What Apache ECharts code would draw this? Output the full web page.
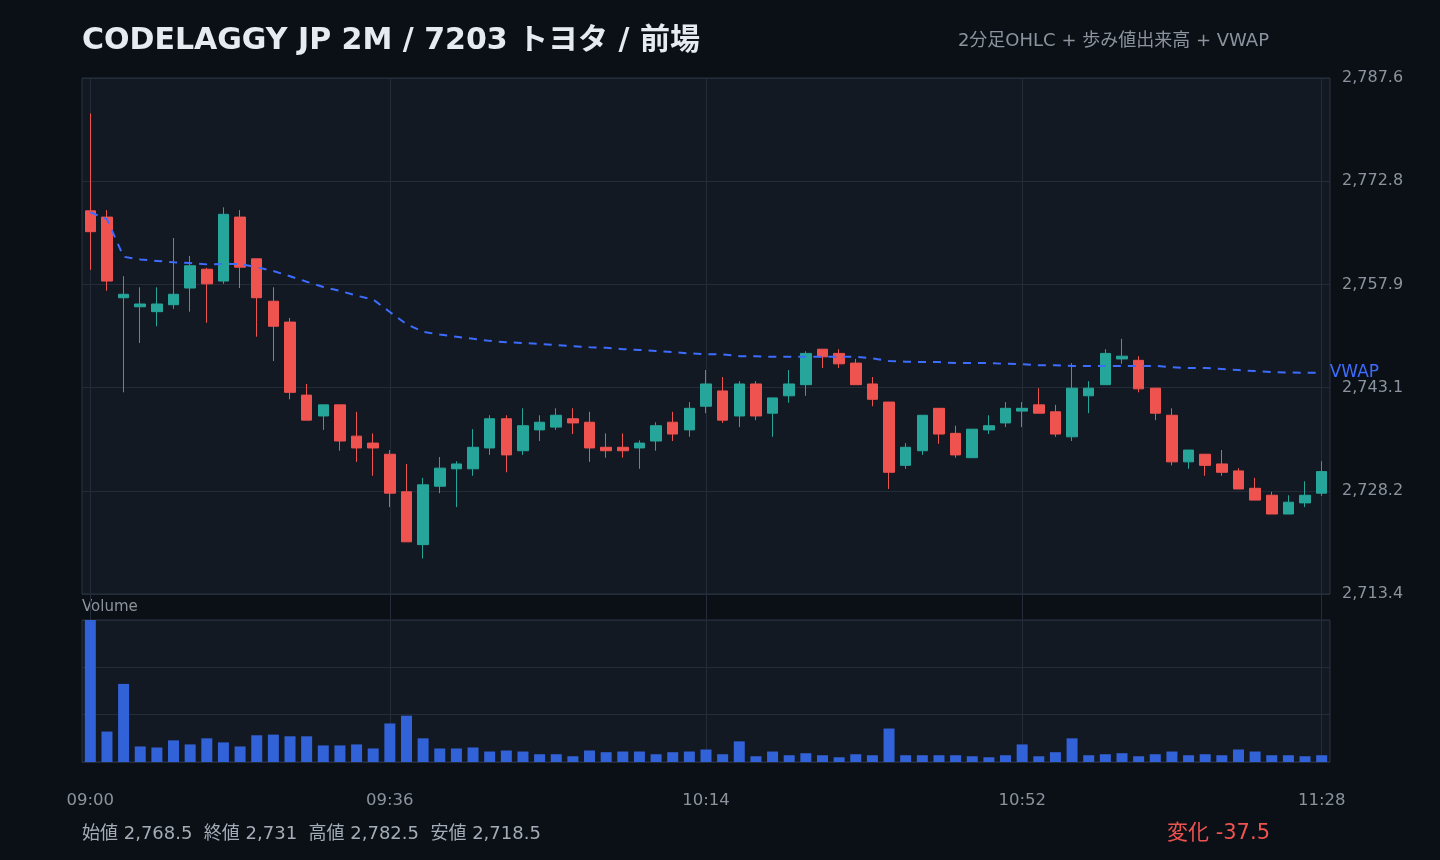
<!DOCTYPE html>
<html lang="ja">
<head>
<meta charset="utf-8">
<title>7203 トヨタ 2分足</title>
<script src="https://cdn.jsdelivr.net/npm/echarts@6/dist/echarts.min.js"></script>
<style>
  html, body { margin: 0; padding: 0; background: #0b0f16; }
  #chart { width: 1440px; height: 860px; }
</style>
</head>
<body>
<div id="chart"></div>
<script>
"use strict";

// 時刻（2分足）
var times = [
  "09:00","09:02","09:04","09:06","09:08","09:10","09:12","09:14","09:16","09:18",
  "09:20","09:22","09:24","09:26","09:28","09:30","09:32","09:34","09:36","09:38",
  "09:40","09:42","09:44","09:46","09:48","09:50","09:52","09:54","09:56","09:58",
  "10:00","10:02","10:04","10:06","10:08","10:10","10:12","10:14","10:16","10:18",
  "10:20","10:22","10:24","10:26","10:28","10:30","10:32","10:34","10:36","10:38",
  "10:40","10:42","10:44","10:46","10:48","10:50","10:52","10:54","10:56","10:58",
  "11:00","11:02","11:04","11:06","11:08","11:10","11:12","11:14","11:16","11:18",
  "11:20","11:22","11:24","11:26","11:28"
];
// 目盛りを出す位置
var labelIndex = [0, 18, 37, 56, 74];

// [始値, 終値, 安値, 高値]
var ohlc = [
  [2768.5, 2765.5, 2760.0, 2782.5], [2767.6, 2758.4, 2757.0, 2768.6],
  [2756.0, 2756.5, 2742.4, 2759.1], [2754.7, 2755.1, 2749.5, 2757.5],
  [2754.0, 2755.1, 2751.9, 2757.5], [2755.0, 2756.5, 2754.4, 2764.6],
  [2757.4, 2760.6, 2754.0, 2762.0], [2760.1, 2758.0, 2752.4, 2760.3],
  [2758.4, 2768.0, 2758.0, 2769.0], [2767.6, 2760.4, 2757.4, 2768.6],
  [2761.6, 2756.0, 2750.4, 2761.6], [2755.5, 2751.9, 2746.9, 2757.5],
  [2752.5, 2742.4, 2741.4, 2753.1], [2742.0, 2738.4, 2738.4, 2743.6],
  [2739.0, 2740.6, 2737.0, 2740.6], [2740.6, 2735.4, 2734.0, 2740.6],
  [2736.1, 2734.4, 2732.4, 2739.6], [2735.1, 2734.4, 2730.4, 2736.5],
  [2733.5, 2727.9, 2725.9, 2734.1], [2728.1, 2720.9, 2720.9, 2732.1],
  [2720.5, 2729.1, 2718.5, 2730.1], [2728.9, 2731.5, 2727.9, 2733.1],
  [2731.4, 2732.1, 2725.9, 2732.5], [2731.4, 2734.5, 2730.4, 2737.1],
  [2734.4, 2738.6, 2733.4, 2739.1], [2738.6, 2733.4, 2730.9, 2739.1],
  [2734.0, 2737.6, 2733.4, 2740.1], [2737.0, 2738.1, 2735.4, 2739.1],
  [2737.4, 2739.1, 2737.0, 2740.1], [2738.6, 2738.0, 2736.4, 2740.1],
  [2738.1, 2734.4, 2732.4, 2739.6], [2734.5, 2734.0, 2733.0, 2736.5],
  [2734.5, 2734.0, 2733.0, 2736.5], [2734.4, 2735.1, 2731.4, 2735.5],
  [2735.4, 2737.6, 2734.0, 2738.1], [2738.1, 2736.4, 2735.4, 2739.6],
  [2737.0, 2740.1, 2736.0, 2741.0], [2740.4, 2743.6, 2739.4, 2745.6],
  [2742.6, 2738.4, 2738.0, 2744.6], [2739.0, 2743.6, 2737.4, 2744.0],
  [2743.6, 2739.0, 2738.4, 2744.0], [2739.4, 2741.6, 2736.0, 2741.6],
  [2741.9, 2743.6, 2740.9, 2745.6], [2743.5, 2748.0, 2741.9, 2748.3],
  [2748.6, 2747.5, 2745.9, 2748.6], [2748.0, 2746.5, 2745.9, 2748.6],
  [2746.6, 2743.5, 2743.5, 2747.2], [2743.6, 2741.4, 2740.4, 2744.6],
  [2741.0, 2730.9, 2728.5, 2741.0], [2731.9, 2734.5, 2731.4, 2735.1],
  [2734.0, 2739.1, 2733.4, 2739.1], [2740.1, 2736.4, 2735.0, 2740.1],
  [2736.5, 2733.4, 2733.0, 2737.6], [2733.0, 2737.1, 2733.0, 2737.1],
  [2737.0, 2737.6, 2736.4, 2739.1], [2738.0, 2740.1, 2737.4, 2741.0],
  [2739.7, 2740.1, 2737.4, 2741.0], [2740.6, 2739.4, 2739.4, 2743.0],
  [2739.6, 2736.4, 2736.0, 2740.6], [2736.0, 2743.0, 2735.4, 2746.6],
  [2741.9, 2743.0, 2739.4, 2744.0], [2743.5, 2748.0, 2743.5, 2748.6],
  [2747.2, 2747.6, 2746.5, 2750.1], [2747.0, 2742.9, 2742.4, 2747.6],
  [2743.0, 2739.4, 2738.4, 2743.0], [2739.1, 2732.4, 2731.9, 2740.1],
  [2732.4, 2734.1, 2731.4, 2734.1], [2733.5, 2731.9, 2730.4, 2733.5],
  [2732.1, 2730.9, 2730.4, 2734.1], [2731.1, 2728.5, 2728.5, 2731.5],
  [2728.6, 2726.9, 2726.9, 2730.1], [2727.6, 2724.9, 2724.9, 2728.1],
  [2724.9, 2726.6, 2724.9, 2727.6], [2726.5, 2727.6, 2725.9, 2729.6],
  [2727.9, 2731.0, 2727.5, 2732.5]
];

// 出来高（株）
var volumes = [
  42000, 9000, 23100, 4600, 4300, 6400, 5200, 7000, 5800, 4600,
  7900, 8100, 7600, 7600, 4900, 4900, 5200, 4000, 11400, 13700,
  7000, 4000, 4000, 4300, 3100, 3400, 3100, 2300, 2300, 1700,
  3400, 2900, 3100, 3100, 2300, 2900, 3100, 3700, 2300, 6100,
  1700, 3100, 2000, 2600, 2000, 1400, 2300, 2000, 9900, 2000,
  2000, 2000, 2000, 1700, 1400, 2000, 5200, 1700, 2900, 7000,
  2000, 2300, 2600, 1700, 2300, 3100, 2000, 2300, 2000, 3700,
  3100, 2000, 2000, 1700, 2000
];

// VWAP
var vwap = [
  2768.3, 2767.3, 2761.9, 2761.5, 2761.3, 2761.1, 2761.0, 2760.8, 2760.85, 2760.85,
  2760.4, 2759.85, 2759.1, 2758.3, 2757.55, 2757.0, 2756.3, 2755.75, 2753.95, 2752.2,
  2751.1, 2750.7, 2750.4, 2750.1, 2749.8, 2749.6, 2749.5, 2749.35, 2749.2, 2749.05,
  2748.9, 2748.8, 2748.6, 2748.5, 2748.35, 2748.2, 2748.0, 2747.9, 2747.85, 2747.6,
  2747.6, 2747.5, 2747.5, 2747.5, 2747.5, 2747.5, 2747.5, 2747.3, 2746.9, 2746.8,
  2746.75, 2746.75, 2746.6, 2746.6, 2746.6, 2746.5, 2746.45, 2746.3, 2746.3, 2746.2,
  2746.2, 2746.2, 2746.2, 2746.2, 2746.2, 2746.0, 2745.9, 2745.9, 2745.75, 2745.6,
  2745.45, 2745.3, 2745.25, 2745.2, 2745.2
];

var priceMin = 2713.4;
var priceMax = 2787.6;

var FONT = '"DejaVu Sans", "Noto Sans CJK JP", sans-serif';
var UP = "#26a69a";
var DOWN = "#ef5350";
var GRID_LINE = "#232c38";
var LABEL = "#8b949e";

function fmt(v) {
  return v.toLocaleString("en-US", { maximumFractionDigits: 1 });
}

function showIndex(index) {
  return labelIndex.indexOf(index) >= 0;
}

// 四本値のサマリー
var openP = ohlc[0][0];
var closeP = ohlc[ohlc.length - 1][1];
var highP = Math.max.apply(null, ohlc.map(function (d) { return d[3]; }));
var lowP = Math.min.apply(null, ohlc.map(function (d) { return d[2]; }));
var change = Math.round((closeP - openP) * 10) / 10;

var myChart = echarts.init(document.getElementById("chart"), null, { renderer: "canvas" });

var option = {
  backgroundColor: "#0b0f16",
  animation: false,
  grid: [
    // 価格
    { left: 82, right: 110, top: 78, height: 516, show: true,
      backgroundColor: "#121922", borderColor: "#2b3441", borderWidth: 1 },
    // 出来高
    { left: 82, right: 110, top: 620, height: 142, show: true,
      backgroundColor: "#121922", borderColor: "#2b3441", borderWidth: 1 },
    // 縦線と時刻ラベル用
    { left: 90.32, right: 118.32, top: 78, height: 684, show: false }
  ],
  xAxis: [
    { type: "category", gridIndex: 0, data: times, boundaryGap: true,
      axisLine: { show: false }, axisTick: { show: false },
      axisLabel: { show: false }, splitLine: { show: false } },
    { type: "category", gridIndex: 1, data: times, boundaryGap: true,
      axisLine: { show: false }, axisTick: { show: false },
      axisLabel: { show: false }, splitLine: { show: false } },
    { type: "category", gridIndex: 2, data: times, boundaryGap: false,
      axisLine: { show: false }, axisTick: { show: false },
      axisLabel: { show: true, interval: showIndex, margin: 30,
        color: LABEL, fontSize: 16.5, fontFamily: FONT },
      splitLine: { show: true, interval: showIndex,
        lineStyle: { color: GRID_LINE, width: 1 } } }
  ],
  yAxis: [
    { type: "value", gridIndex: 0, position: "right", scale: true,
      min: priceMin, max: priceMax, interval: (priceMax - priceMin) / 5,
      axisLine: { show: false }, axisTick: { show: false },
      axisLabel: { margin: 12, color: LABEL, fontSize: 16, fontFamily: FONT,
        formatter: function (v) {
          return v.toLocaleString("en-US", { minimumFractionDigits: 1, maximumFractionDigits: 1 });
        } },
      splitLine: { show: true, lineStyle: { color: GRID_LINE, width: 1 } } },
    { type: "value", gridIndex: 1, min: 0, max: 42000, interval: 14000,
      axisLine: { show: false }, axisTick: { show: false }, axisLabel: { show: false },
      splitLine: { show: true, lineStyle: { color: GRID_LINE, width: 1 } } },
    { type: "value", gridIndex: 2, show: false, min: 0, max: 1 }
  ],
  series: [
    {
      name: "OHLC",
      type: "candlestick",
      xAxisIndex: 0,
      yAxisIndex: 0,
      data: ohlc,
      barWidth: 11,
      itemStyle: {
        color: UP, color0: DOWN,
        borderColor: UP, borderColor0: DOWN, borderWidth: 1
      }
    },
    {
      name: "VWAP",
      type: "line",
      xAxisIndex: 0,
      yAxisIndex: 0,
      data: vwap,
      showSymbol: false,
      symbol: "none",
      z: 5,
      lineStyle: { color: "#3d6cff", width: 2, type: [8, 7] },
      endLabel: { show: true, formatter: "VWAP", color: "#3d6cff",
        fontSize: 17, fontFamily: FONT, distance: 8 }
    },
    {
      name: "Volume",
      type: "bar",
      xAxisIndex: 1,
      yAxisIndex: 1,
      data: volumes,
      barWidth: 11,
      itemStyle: { color: "#3262d8" }
    }
  ],
  graphic: [
    { type: "text", x: 82, y: 41,
      style: { text: "CODELAGGY JP 2M / 7203 トヨタ / 前場", fill: "#e6ebf1",
        fontSize: 30, fontWeight: "bold", fontFamily: FONT,
        align: "left", verticalAlign: "middle" } },
    { type: "text", x: 1269, y: 41,
      style: { text: "2分足OHLC + 歩み値出来高 + VWAP", fill: LABEL,
        fontSize: 18, fontFamily: FONT, align: "right", verticalAlign: "middle" } },
    { type: "text", x: 82, y: 607,
      style: { text: "Volume", fill: LABEL, fontSize: 15, fontFamily: FONT,
        align: "left", verticalAlign: "middle" } },
    { type: "text", x: 82, y: 834,
      style: { text: "始値 " + fmt(openP) + "  終値 " + fmt(closeP) +
          "  高値 " + fmt(highP) + "  安値 " + fmt(lowP),
        fill: "#a3acb7", fontSize: 18, fontFamily: FONT,
        align: "left", verticalAlign: "middle" } },
    { type: "text", x: 1270, y: 834,
      style: { text: "変化 " + fmt(change), fill: DOWN,
        fontSize: 21, fontFamily: FONT, align: "right", verticalAlign: "middle" } }
  ]
};

myChart.setOption(option);

window.onresize = function () {
  myChart.resize();
};
</script>
</body>
</html>
